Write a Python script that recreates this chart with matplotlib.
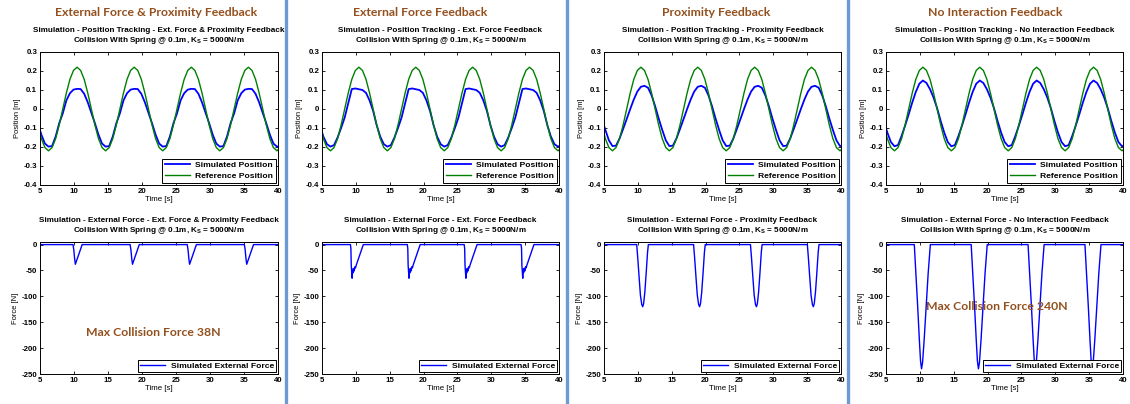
import numpy as np
import matplotlib
matplotlib.use("Agg")
import matplotlib.pyplot as plt
from matplotlib.lines import Line2D

plt.rcParams.update({
    "font.family": ["Liberation Sans", "DejaVu Sans"],
    "font.weight": "bold",
    "mathtext.fontset": "custom",
    "mathtext.rm": "Liberation Sans:bold",
    "mathtext.it": "Liberation Sans:bold",
    "mathtext.bf": "Liberation Sans:bold",
    "axes.linewidth": 0.7,
    "axes.unicode_minus": False,
})

# ---------------------------------------------------------------- data
panel_headings = ["External Force & Proximity Feedback", "External Force Feedback",
                  "Proximity Feedback", "No Interaction Feedback"]
mode_names = ["Ext. Force & Proximity Feedback", "Ext. Force Feedback",
              "Proximity Feedback", "No Interaction Feedback"]

# sample times of the position traces [s]
t_pos = np.linspace(4.675, 40.375, 69)

# reference trajectory [m]
ref_pos = [
    -0.084, -0.156, -0.203, -0.220, -0.203, -0.156, -0.084, 0.000, 0.084, 0.156, 0.203,
    0.220, 0.203, 0.156, 0.084, 0.000, -0.084, -0.156, -0.203, -0.220, -0.203, -0.156, -0.084, 0.000, 0.084, 0.156, 0.203,
    0.220, 0.203, 0.156, 0.084, 0.000, -0.084, -0.156, -0.203, -0.220, -0.203, -0.156, -0.084, 0.000, 0.084, 0.156, 0.203,
    0.220, 0.203, 0.156, 0.084, 0.000, -0.084, -0.156, -0.203, -0.220, -0.203, -0.156, -0.084, 0.000, 0.084, 0.156, 0.203,
    0.220, 0.203, 0.156, 0.084, 0.000, -0.084, -0.156, -0.203, -0.220, -0.203,
]

# simulated positions [m]
sim_pos_force_prox = [
    -0.075, -0.135, -0.182, -0.198, -0.195, -0.145, -0.075, -0.023, 0.045, 0.083, 0.102,
    0.106, 0.105, 0.080, 0.035, -0.020, -0.075, -0.135, -0.182, -0.198, -0.195, -0.145, -0.075, -0.023, 0.045, 0.083, 0.102,
    0.106, 0.105, 0.080, 0.035, -0.020, -0.075, -0.135, -0.182, -0.198, -0.195, -0.145, -0.075, -0.023, 0.045, 0.083, 0.102,
    0.106, 0.105, 0.080, 0.035, -0.020, -0.075, -0.135, -0.182, -0.198, -0.195, -0.145, -0.075, -0.023, 0.045, 0.083, 0.102,
    0.106, 0.105, 0.080, 0.035, -0.020, -0.075, -0.135, -0.182, -0.198, -0.195,
]
sim_pos_force = [
    -0.085, -0.145, -0.185, -0.198, -0.190, -0.150, -0.100, -0.045, 0.030, 0.105, 0.108,
    0.104, 0.100, 0.085, 0.045, -0.010, -0.085, -0.145, -0.185, -0.198, -0.190, -0.150, -0.100, -0.045, 0.030, 0.105, 0.108,
    0.104, 0.100, 0.085, 0.045, -0.010, -0.085, -0.145, -0.185, -0.198, -0.190, -0.150, -0.100, -0.045, 0.030, 0.105, 0.108,
    0.104, 0.100, 0.085, 0.045, -0.010, -0.085, -0.145, -0.185, -0.198, -0.190, -0.150, -0.100, -0.045, 0.030, 0.105, 0.108,
    0.104, 0.100, 0.085, 0.045, -0.010, -0.085, -0.145, -0.185, -0.198, -0.190,
]
sim_pos_prox = [
    -0.050, -0.110, -0.165, -0.195, -0.193, -0.155, -0.105, -0.053, 0.000, 0.050, 0.092,
    0.117, 0.122, 0.112, 0.072, 0.015, -0.050, -0.110, -0.165, -0.195, -0.193, -0.155, -0.105, -0.053, 0.000, 0.050, 0.092,
    0.117, 0.122, 0.112, 0.072, 0.015, -0.050, -0.110, -0.165, -0.195, -0.193, -0.155, -0.105, -0.053, 0.000, 0.050, 0.092,
    0.117, 0.122, 0.112, 0.072, 0.015, -0.050, -0.110, -0.165, -0.195, -0.193, -0.155, -0.105, -0.053, 0.000, 0.050, 0.092,
    0.117, 0.122, 0.112, 0.072, 0.015, -0.050, -0.110, -0.165, -0.195, -0.193,
]
sim_pos_none = [
    -0.063, -0.124, -0.174, -0.196, -0.190, -0.142, -0.087, -0.028, 0.034, 0.090, 0.133,
    0.150, 0.137, 0.104, 0.060, 0.004, -0.063, -0.124, -0.174, -0.196, -0.190, -0.142, -0.087, -0.028, 0.034, 0.090, 0.133,
    0.150, 0.137, 0.104, 0.060, 0.004, -0.063, -0.124, -0.174, -0.196, -0.190, -0.142, -0.087, -0.028, 0.034, 0.090, 0.133,
    0.150, 0.137, 0.104, 0.060, 0.004, -0.063, -0.124, -0.174, -0.196, -0.190, -0.142, -0.087, -0.028, 0.034, 0.090, 0.133,
    0.150, 0.137, 0.104, 0.060, 0.004, -0.063, -0.124, -0.174, -0.196, -0.190,
]

# simulated external force [N] (time, value)
t_force_force_prox = [5.0,
    9.85, 9.97, 10.09, 10.20, 11.20,
    18.25, 18.37, 18.49, 18.60, 19.60,
    26.65, 26.77, 26.89, 27.00, 28.00,
    35.05, 35.17, 35.29, 35.40, 36.40,
    40.0]
f_force_prox = [0,
    0, -10, -27, -38, 0,
    0, -10, -27, -38, 0,
    0, -10, -27, -38, 0,
    0, -10, -27, -38, 0,
    0]

t_force_force = [5.0,
    9.20, 9.27, 9.32, 9.45, 9.50, 9.56, 9.65, 9.75, 9.85, 9.95, 10.05, 11.10,
    17.60, 17.67, 17.72, 17.85, 17.90, 17.96, 18.05, 18.15, 18.25, 18.35, 18.45, 19.50,
    26.00, 26.07, 26.12, 26.25, 26.30, 26.36, 26.45, 26.55, 26.65, 26.75, 26.85, 27.90,
    34.40, 34.47, 34.52, 34.65, 34.70, 34.76, 34.85, 34.95, 35.05, 35.15, 35.25, 36.30,
    40.0]
f_force = [0,
    0, -8, -40, -65, -48, -55, -46, -51, -43, -45, -40, 0,
    0, -8, -40, -65, -48, -55, -46, -51, -43, -45, -40, 0,
    0, -8, -40, -65, -48, -55, -46, -51, -43, -45, -40, 0,
    0, -8, -40, -65, -48, -55, -46, -51, -43, -45, -40, 0,
    0]

t_force_prox = [5.0,
    9.83, 9.98, 10.18, 10.38, 10.58, 10.72, 10.85, 11.03, 11.23, 11.43, 11.55,
    18.23, 18.38, 18.58, 18.78, 18.98, 19.12, 19.25, 19.43, 19.63, 19.83, 19.95,
    26.63, 26.78, 26.98, 27.18, 27.38, 27.52, 27.65, 27.83, 28.03, 28.23, 28.35,
    35.03, 35.18, 35.38, 35.58, 35.78, 35.92, 36.05, 36.23, 36.43, 36.63, 36.75,
    40.0]
f_prox = [0,
    0, -25, -62, -98, -116, -120, -114, -92, -55, -15, 0,
    0, -25, -62, -98, -116, -120, -114, -92, -55, -15, 0,
    0, -25, -62, -98, -116, -120, -114, -92, -55, -15, 0,
    0, -25, -62, -98, -116, -120, -114, -92, -55, -15, 0,
    0]

t_force_none = [5.0,
    9.18, 9.43, 9.68, 9.93, 10.10, 10.25, 10.40, 10.63, 10.93, 11.23, 11.55,
    17.58, 17.83, 18.08, 18.33, 18.50, 18.65, 18.80, 19.03, 19.33, 19.63, 19.95,
    25.98, 26.23, 26.48, 26.73, 26.90, 27.05, 27.20, 27.43, 27.73, 28.03, 28.35,
    34.38, 34.63, 34.88, 35.13, 35.30, 35.45, 35.60, 35.83, 36.13, 36.43, 36.75,
    40.0]
f_none = [0,
    0, -60, -120, -185, -225, -240, -228, -185, -120, -55, 0,
    0, -60, -120, -185, -225, -240, -228, -185, -120, -55, 0,
    0, -60, -120, -185, -225, -240, -228, -185, -120, -55, 0,
    0, -60, -120, -185, -225, -240, -228, -185, -120, -55, 0,
    0]

sim_positions = [sim_pos_force_prox, sim_pos_force, sim_pos_prox, sim_pos_none]
force_times = [t_force_force_prox, t_force_force, t_force_prox, t_force_none]
force_values = [f_force_prox, f_force, f_prox, f_none]

x_ticks = [5, 10, 15, 20, 25, 30, 35, 40]
x_tick_labels = ["5", "10", "15", "20", "25", "30", "35", "40"]
pos_ticks = [-0.4, -0.3, -0.2, -0.1, 0.0, 0.1, 0.2, 0.3]
pos_tick_labels = ["-0.4", "-0.3", "-0.2", "-0.1", "0", "0.1", "0.2", "0.3"]
force_ticks = [-250, -200, -150, -100, -50, 0]
force_tick_labels = ["-250", "-200", "-150", "-100", "-50", "0"]

annotations = {0: "Max Collision Force 38N", 3: "Max Collision Force 240N"}

# ---------------------------------------------------------------- layout
W, H = 1130, 404
fig = plt.figure(figsize=(W / 100, H / 100), dpi=100)
fig.patch.set_facecolor("white")

col_x = [(40, 278), (322, 559), (604, 841), (886, 1123)]
top_y = (52, 185)
bot_y = (242, 374)
heading_x = [156, 420, 716, 995]
separators_x = [286, 567, 848]
annotation_xy = {0: (153, 332), 3: (997, 306)}

BROWN = "#93501F"
SEP_BLUE = "#6B9BD2"
TITLE_FS = 5.9
TICK_FS = 5.7
LEG_FS = 6.1


def rect(x, y):
    return [x[0] / W, 1 - y[1] / H, (x[1] - x[0]) / W, (y[1] - y[0]) / H]


def style_axes(ax):
    ax.tick_params(direction="in", top=True, right=True, length=2.5, width=0.6,
                   labelsize=TICK_FS, pad=2)
    ax.set_xlim(5, 40)
    ax.set_xticks(x_ticks, x_tick_labels)
    ax.set_xlabel("Time [s]", fontsize=TICK_FS, labelpad=1)


def style_legend(leg):
    leg.get_frame().set_linewidth(0.7)
    leg.get_frame().set_edgecolor("black")


for i in range(4):
    # position tracking
    ax = fig.add_axes(rect(col_x[i], top_y))
    ax.plot(t_pos, sim_positions[i], color="#0000FF", lw=1.3, label="Simulated Position")
    ax.plot(t_pos, ref_pos, color="#008000", lw=1.0, label="Reference Position")
    style_axes(ax)
    ax.set_ylim(-0.4, 0.3)
    ax.set_yticks(pos_ticks, pos_tick_labels)
    ax.set_ylabel("Position [m]", fontsize=5.4, labelpad=2)
    ax.set_title("Simulation - Position Tracking - " + mode_names[i] +
                 "\nCollision With Spring @ 0.1m, K$_{S}$ = 5000N/m",
                 fontsize=TITLE_FS, fontweight="bold", pad=7, linespacing=1.15)
    leg = ax.legend(loc="lower right", fontsize=LEG_FS, fancybox=False, framealpha=1,
                    borderpad=0.35, labelspacing=0.3, handlelength=2.9,
                    handletextpad=0.6, borderaxespad=0.25)
    style_legend(leg)

    # external force
    ax2 = fig.add_axes(rect(col_x[i], bot_y))
    ax2.plot(force_times[i], force_values[i], color="#0000FF", lw=1.0,
             label="Simulated External Force")
    style_axes(ax2)
    ax2.set_ylim(-250, 5)
    ax2.set_yticks(force_ticks, force_tick_labels)
    ax2.set_ylabel("Force [N]", fontsize=5.4, labelpad=2)
    ax2.set_title("Simulation - External Force - " + mode_names[i] +
                  "\nCollision With Spring @ 0.1m, K$_{S}$ = 5000N/m",
                  fontsize=TITLE_FS, fontweight="bold", pad=7, linespacing=1.15)
    leg2 = ax2.legend(loc="lower right", fontsize=LEG_FS, fancybox=False, framealpha=1,
                      borderpad=0.25, handlelength=3.0, handletextpad=0.6,
                      borderaxespad=0.25)
    style_legend(leg2)

    fig.text(heading_x[i] / W, 1 - 12 / H, panel_headings[i], color=BROWN,
             fontsize=8.8, fontweight="bold", family=["Lato", "DejaVu Sans"],
             ha="center", va="center")

    if i in annotations:
        ax_, ay_ = annotation_xy[i]
        fig.text(ax_ / W, 1 - ay_ / H, annotations[i], color=BROWN,
                 fontsize=8.8, fontweight="bold", family=["Lato", "DejaVu Sans"],
                 ha="center", va="center", zorder=10)

for sx in separators_x:
    fig.add_artist(Line2D([sx / W, sx / W], [0, 1], color=SEP_BLUE, lw=2.4,
                          transform=fig.transFigure))

fig.savefig("out.png", dpi=100, facecolor="white")
